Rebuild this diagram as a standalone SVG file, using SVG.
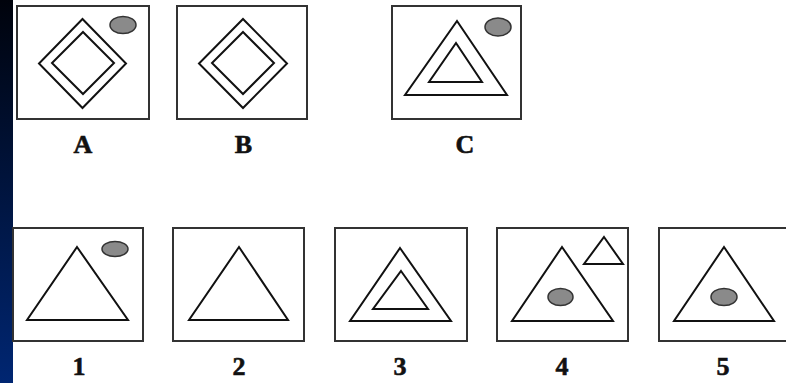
<svg xmlns="http://www.w3.org/2000/svg" width="786" height="383" viewBox="0 0 786 383">
<defs>
<linearGradient id="strip" x1="0" y1="0" x2="0" y2="1">
<stop offset="0" stop-color="#00030c"/>
<stop offset="1" stop-color="#002672"/>
</linearGradient>
<style>
.box{fill:#fff;stroke:#333;stroke-width:2}
.sh{fill:none;stroke:#111;stroke-width:2;stroke-linejoin:miter}
.dot{fill:#8a8a8a;stroke:#333;stroke-width:1.5}
.lbl{font-family:"Liberation Serif","Times New Roman",serif;font-weight:bold;font-size:26px;fill:#111;stroke:#111;stroke-width:0.6;text-anchor:middle}
</style>
</defs>
<rect x="0" y="0" width="786" height="383" fill="#fff"/>
<rect x="0" y="0" width="13" height="383" fill="url(#strip)"/>

<g id="panelA">
<rect class="box" x="17" y="6" width="132" height="113"/>
<polygon class="sh" points="82.5,19 126,63.5 82.5,108 39,63.5"/>
<polygon class="sh" points="83,32 114,63 83,94 52,63"/>
<ellipse class="dot" cx="123" cy="25" rx="13" ry="8.5"/>
<text class="lbl" x="83" y="153">A</text>
</g>

<g id="panelB">
<rect class="box" x="177" y="6" width="130" height="113"/>
<polygon class="sh" points="243,19 287,63.5 243,108 199,63.5"/>
<polygon class="sh" points="243,32 274,63 243,94 212,63"/>
<text class="lbl" x="243.5" y="153">B</text>
</g>

<g id="panelC">
<rect class="box" x="392" y="6" width="129" height="113"/>
<polygon class="sh" points="457,21 507,95 405,95"/>
<polygon class="sh" points="456,43 482,82 429,82"/>
<ellipse class="dot" cx="498" cy="27" rx="13" ry="9"/>
<text class="lbl" x="465" y="153">C</text>
</g>

<g id="option1">
<rect class="box" x="13" y="228" width="130" height="113"/>
<polygon class="sh" points="77,247 128,320 27,320"/>
<ellipse class="dot" cx="115" cy="249" rx="13" ry="7.5"/>
<text class="lbl" x="79" y="375">1</text>
</g>

<g id="option2">
<rect class="box" x="173" y="228" width="131" height="113"/>
<polygon class="sh" points="239,247 288,320 189,320"/>
<text class="lbl" x="239" y="375">2</text>
</g>

<g id="option3">
<rect class="box" x="335" y="228" width="132" height="113"/>
<polygon class="sh" points="400,248 451,321 350,321"/>
<polygon class="sh" points="401,271 428,309 373,309"/>
<text class="lbl" x="400" y="375">3</text>
</g>

<g id="option4">
<rect class="box" x="497" y="228" width="131" height="113"/>
<polygon class="sh" points="562,247 613,321 512,321"/>
<polygon class="sh" points="604,237 623,264 584,264"/>
<ellipse class="dot" cx="560.5" cy="297" rx="12.5" ry="8.5"/>
<text class="lbl" x="562" y="375">4</text>
</g>

<g id="option5">
<rect class="box" x="659" y="228" width="131" height="113"/>
<polygon class="sh" points="724,247 774,321 674,321"/>
<ellipse class="dot" cx="724" cy="297" rx="13" ry="8.5"/>
<text class="lbl" x="723" y="375">5</text>
</g>

<g id="connectors"/>
</svg>
